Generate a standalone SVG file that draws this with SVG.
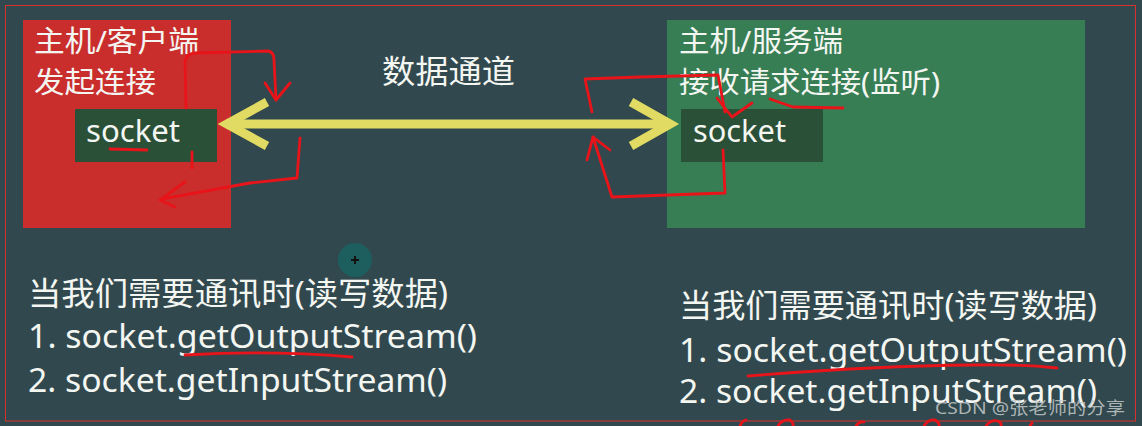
<svg xmlns="http://www.w3.org/2000/svg" width="1142" height="426" viewBox="0 0 1142 426">
  <style>
    .t { font-family: "Noto Sans", "Noto Sans CJK SC", sans-serif; fill: #f4f6f2; }
    .sock { fill: #2a5038; }
    .yel { fill: none; stroke: #e2db63; stroke-width: 9; stroke-linejoin: miter; }
    .red { fill: none; stroke: #e8141a; stroke-width: 2.8; stroke-linecap: round; stroke-linejoin: round; }
  </style>
  <rect x="0" y="0" width="1142" height="426" fill="#31494e"/>
  <rect x="5.5" y="5.5" width="1130" height="415.5" fill="none" stroke="#d8302c" stroke-width="1"/>

  <g id="client">
    <rect x="23" y="20" width="208" height="208" fill="#c92e2d"/>
    <text class="t" x="34" y="52" font-size="29" textLength="165" lengthAdjust="spacingAndGlyphs">主机/客户端</text>
    <text class="t" x="34" y="93" font-size="29" textLength="122" lengthAdjust="spacingAndGlyphs">发起连接</text>
  </g>
  <g id="client-socket">
    <rect class="sock" x="75" y="109" width="142" height="53"/>
    <text class="t" x="86" y="142" font-size="30" textLength="94" lengthAdjust="spacingAndGlyphs">socket</text>
  </g>

  <g id="server">
    <rect x="667" y="20" width="418" height="208" fill="#377e55"/>
    <text class="t" x="679" y="52" font-size="29" textLength="164" lengthAdjust="spacingAndGlyphs">主机/服务端</text>
    <text class="t" x="679" y="93" font-size="29" textLength="261" lengthAdjust="spacingAndGlyphs">接收请求连接(监听)</text>
  </g>
  <g id="server-socket">
    <rect class="sock" x="681" y="109" width="142" height="53"/>
    <text class="t" x="693" y="142" font-size="30" textLength="93" lengthAdjust="spacingAndGlyphs">socket</text>
  </g>

  <g id="channel-label">
    <text class="t" x="382" y="83" font-size="32" textLength="133" lengthAdjust="spacingAndGlyphs">数据通道</text>
  </g>

  <g id="connectors">
    <line class="yel" x1="226" y1="124" x2="671" y2="124"/>
    <polyline class="yel" points="267,102 227,124 267,146"/>
    <polyline class="yel" points="631,102 670,124 631,146"/>
  </g>

  <g id="notes-client">
    <text class="t" x="28" y="305" font-size="32" textLength="420" lengthAdjust="spacingAndGlyphs">当我们需要通讯时(读写数据)</text>
    <text class="t" x="28" y="348" font-size="32" textLength="449" lengthAdjust="spacingAndGlyphs">1. socket.getOutputStream()</text>
    <text class="t" x="28" y="392" font-size="32" textLength="419" lengthAdjust="spacingAndGlyphs">2. socket.getInputStream()</text>
  </g>
  <g id="notes-server">
    <text class="t" x="679" y="317" font-size="32" textLength="418" lengthAdjust="spacingAndGlyphs">当我们需要通讯时(读写数据)</text>
    <text class="t" x="679" y="362" font-size="32" textLength="448" lengthAdjust="spacingAndGlyphs">1. socket.getOutputStream()</text>
    <text class="t" x="679" y="403" font-size="32" textLength="418" lengthAdjust="spacingAndGlyphs">2. socket.getInputStream()</text>
  </g>

  <g id="annotations">
    <path class="red" d="M186,108 L185,62 Q186,54 195,53 L268,51 Q274,52 274,60 L276,100"/>
    <polyline class="red" points="265,83 276,100 290,83"/>
    <path class="red" d="M300,138 L297,178 L250,183 L162,199"/>
    <polyline class="red" points="185,182 160,200 175,207"/>
    <line class="red" x1="192" y1="152" x2="192" y2="168"/>
    <line class="red" x1="110" y1="149" x2="147" y2="150"/>
    <path class="red" d="M592,112 L585,79 L640,77 L718,75 L725,112"/>
    <polyline class="red" points="717,98 732,117 752,103"/>
    <path class="red" d="M723,150 L725,193 L612,197 L593,137"/>
    <polyline class="red" points="587,160 593,137 610,150"/>
    <path class="red" d="M770,99 L793,107 L843,108"/>
    <path class="red" d="M185,355 Q270,350 352,357"/>
    <path class="red" d="M748,376 Q870,366 973,365 Q1020,364 1057,368"/>
    <path class="red" d="M740,426 Q742,421 746,420"/>
    <path class="red" d="M778,426 Q782,419 790,420 Q794,423 793,426"/>
    <path class="red" d="M856,426 Q859,421 864,422"/>
    <path class="red" d="M924,426 Q928,419 935,420 Q940,423 939,426"/>
    <path class="red" d="M986,426 Q991,419 998,421 Q1002,423 1001,426"/>
    <path class="red" d="M1030,426 L1032,423"/>
  </g>

  <g id="cursor">
    <circle cx="355" cy="260" r="17" fill="#1d5f5e"/>
    <path d="M351,260 H359 M355,256 V264" stroke="#111" stroke-width="2"/>
  </g>

  <g id="watermark">
    <text x="935" y="414" font-family="'Noto Sans', 'Noto Sans CJK SC', sans-serif" font-size="17" fill="#c4c8c8" fill-opacity="0.85" textLength="190" lengthAdjust="spacingAndGlyphs">CSDN @张老师的分享</text>
  </g>
</svg>
